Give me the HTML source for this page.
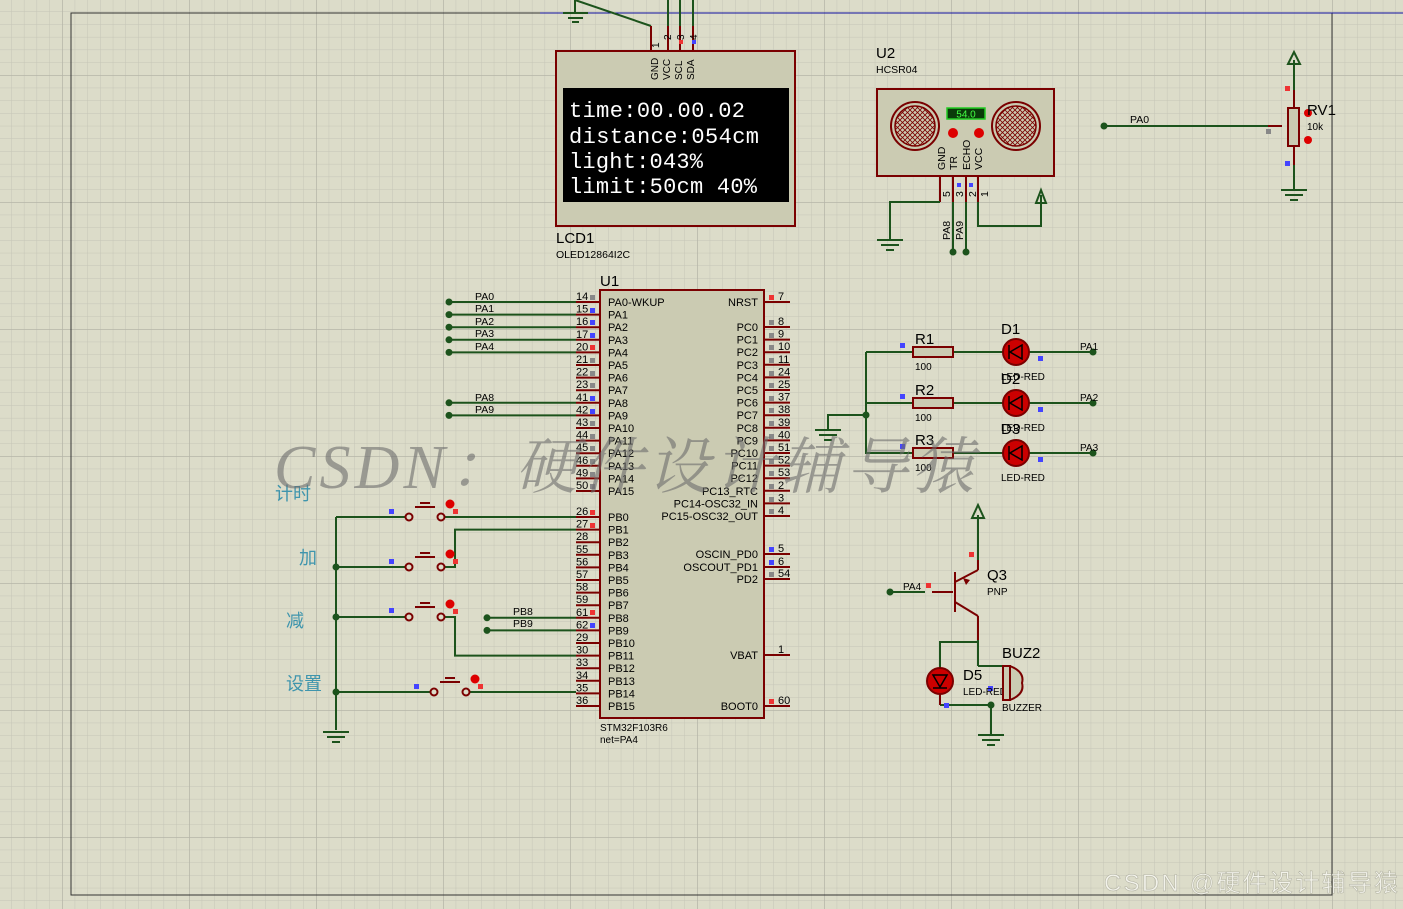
<!DOCTYPE html>
<html><head><meta charset="utf-8"><style>
html,body{margin:0;padding:0;background:#dcdcc9;}
svg{display:block;font-family:"Liberation Sans",Arial,sans-serif;}
.p{font-size:11px;fill:#000}
.n{font-size:11px;fill:#000}
.w{stroke:#1c531c;stroke-width:2;fill:none}
.r{stroke:#7a0000;stroke-width:2;fill:none}
</style></head><body>
<svg width="1403" height="909" viewBox="0 0 1403 909" xmlns="http://www.w3.org/2000/svg">
<defs>
<pattern id="g" x="62" y="-52" width="12.7" height="12.7" patternUnits="userSpaceOnUse"><path d="M0 0H12.7M0 0V12.7" stroke="#c5c5b6" stroke-width="1" fill="none"/></pattern>
<pattern id="G" x="62" y="-52" width="127" height="127" patternUnits="userSpaceOnUse"><path d="M0 0H127M0 0V127" stroke="#b5b5a8" stroke-width="1.5" fill="none"/></pattern>
<pattern id="mesh" width="5" height="5" patternUnits="userSpaceOnUse"><path d="M0 0L5 5M5 0L0 5" stroke="#7a0000" stroke-width="0.8"/></pattern>
</defs>
<rect width="1403" height="909" fill="#dcdcc9"/>
<rect width="1403" height="909" fill="url(#g)"/>
<rect width="1403" height="909" fill="url(#G)"/>
<rect x="71" y="13" width="1261" height="882" fill="none" stroke="#333" stroke-width="1"/>

<!-- LCD -->
<line x1="540" y1="13" x2="1403" y2="13" stroke="#1010a0" stroke-width="1"/>
<path class="w" d="M575 0V13M563 13H588M568 18H583M572 22H579"/>
<path class="w" d="M575 0L651 26M668 0V26M680 0V26M693 0V26"/>
<path class="r" d="M651 26V51M668 26V51M680 26V51M693 26V51"/>
<rect x="679" y="40" width="4" height="4" fill="#e33"/><rect x="692" y="40" width="4" height="4" fill="#44f"/>
<rect x="556" y="51" width="239" height="175" fill="#cbcbb2" stroke="#7a0000" stroke-width="2"/>
<g font-size="10" fill="#000"><text transform="translate(659,48) rotate(-90)">1</text><text transform="translate(671,40) rotate(-90)">2</text><text transform="translate(684,40) rotate(-90)">3</text><text transform="translate(697,40) rotate(-90)">4</text>
<text transform="translate(658,80) rotate(-90)">GND</text><text transform="translate(670,80) rotate(-90)">VCC</text><text transform="translate(682,80) rotate(-90)">SCL</text><text transform="translate(694,80) rotate(-90)">SDA</text></g>
<rect x="563" y="88" width="226" height="114" fill="#000"/>
<g font-family="'Liberation Mono',monospace" font-size="22" fill="#fff"><text x="569" y="117" textLength="176">time:00.00.02</text><text x="569" y="143" textLength="190">distance:054cm</text><text x="569" y="168" textLength="134">light:043%</text><text x="569" y="193" textLength="188">limit:50cm 40%</text></g>
<text x="556" y="243" font-size="15">LCD1</text><text x="556" y="258" font-size="10.5">OLED12864I2C</text>

<!-- HCSR04 -->
<text x="876" y="58" font-size="15">U2</text><text x="876" y="73" font-size="10.5">HCSR04</text>
<rect x="877" y="89" width="177" height="87" fill="#cbcbb2" stroke="#7a0000" stroke-width="2"/>
<circle cx="915" cy="126" r="24" fill="#cbcbb2" stroke="#7a0000" stroke-width="2"/><circle cx="915" cy="126" r="20" fill="url(#mesh)" stroke="#7a0000" stroke-width="1.5"/>
<circle cx="1016" cy="126" r="24" fill="#cbcbb2" stroke="#7a0000" stroke-width="2"/><circle cx="1016" cy="126" r="20" fill="url(#mesh)" stroke="#7a0000" stroke-width="1.5"/>
<rect x="947" y="108" width="38" height="11" fill="#0a3a0a" stroke="#2c2" stroke-width="1.5"/><text x="966" y="117.5" font-size="10" fill="#4f4" text-anchor="middle">54.0</text>
<circle cx="953" cy="133" r="5" fill="#d00"/><circle cx="979" cy="133" r="5" fill="#d00"/>
<g font-size="10.5"><text transform="translate(945,170) rotate(-90)">GND</text><text transform="translate(957,170) rotate(-90)">TR</text><text transform="translate(970,170) rotate(-90)">ECHO</text><text transform="translate(982,170) rotate(-90)">VCC</text>
<text transform="translate(950,197) rotate(-90)">5</text><text transform="translate(963,197) rotate(-90)">3</text><text transform="translate(976,197) rotate(-90)">2</text><text transform="translate(988,197) rotate(-90)">1</text>
<text transform="translate(950,240) rotate(-90)">PA8</text><text transform="translate(963,240) rotate(-90)">PA9</text></g>
<rect x="957" y="183" width="4" height="4" fill="#44f"/><rect x="969" y="183" width="4" height="4" fill="#44f"/>
<path class="r" d="M940 176V202M953 176V202M966 176V202M978 176V202"/>
<path class="w" d="M940 202H890V240M953 202V252M966 202V252M978 202V226H1041V195"/>
<path class="w" d="M877 240H903M881 245H899M886 250H894"/>
<path class="w" d="M1036 203L1041 190L1046 203Z"/>
<circle cx="953" cy="252" r="3.5" fill="#1c531c"/><circle cx="966" cy="252" r="3.5" fill="#1c531c"/>

<!-- RV1 -->
<circle cx="1104" cy="126" r="3.5" fill="#1c531c"/><path class="w" d="M1104 126H1268"/><text x="1130" y="123" font-size="10.5">PA0</text>
<path class="r" d="M1268 126H1282"/><rect x="1266" y="129" width="5" height="5" fill="#888"/>
<path class="w" d="M1294 60V90M1294 165V190M1281 190H1307M1285 195H1303M1290 200H1298M1288 64L1294 52L1300 64Z"/>
<path class="r" d="M1294 90V108M1294 146V165"/>
<rect x="1285" y="86" width="5" height="5" fill="#e33"/><rect x="1285" y="161" width="5" height="5" fill="#44f"/>
<rect x="1288" y="108" width="11" height="38" fill="#cbcbb2" stroke="#7a0000" stroke-width="2"/>
<circle cx="1308" cy="113" r="4" fill="#d00"/><circle cx="1308" cy="140" r="4" fill="#d00"/>
<text x="1307" y="115" font-size="15">RV1</text><text x="1307" y="130" font-size="10">10k</text>

<!-- MCU -->
<text x="600" y="286" font-size="15">U1</text>
<rect x="600" y="290" width="164" height="428" fill="#cbcbb2" stroke="#7a0000" stroke-width="2"/>
<g class="r">
<path d="M576 302H600M576 314.6H600M576 327.2H600M576 339.8H600M576 352.4H600M576 365H600M576 377.6H600M576 390.2H600M576 402.8H600M576 415.4H600M576 428H600M576 440.6H600M576 453.2H600M576 465.8H600M576 478.4H600M576 491H600"/>
<path d="M576 517H600M576 529.6H600M576 542.2H600M576 554.8H600M576 567.4H600M576 580H600M576 592.6H600M576 605.2H600M576 617.8H600M576 630.4H600M576 643H600M576 655.6H600M576 668.2H600M576 680.8H600M576 693.4H600M576 706H600"/>
<path d="M764 302H790M764 327H790M764 339.6H790M764 352.2H790M764 364.8H790M764 377.4H790M764 390H790M764 402.6H790M764 415.2H790M764 427.8H790M764 440.4H790M764 453H790M764 465.6H790M764 478.2H790M764 490.8H790M764 503.4H790M764 516H790M764 554H790M764 567H790M764 579H790M764 655H790M764 706H790"/>
</g>
<g class="p">
<text x="608" y="306">PA0-WKUP</text><text x="608" y="318.6">PA1</text><text x="608" y="331.2">PA2</text><text x="608" y="343.8">PA3</text><text x="608" y="356.4">PA4</text><text x="608" y="369">PA5</text><text x="608" y="381.6">PA6</text><text x="608" y="394.2">PA7</text><text x="608" y="406.8">PA8</text><text x="608" y="419.4">PA9</text><text x="608" y="432">PA10</text><text x="608" y="444.6">PA11</text><text x="608" y="457.2">PA12</text><text x="608" y="469.8">PA13</text><text x="608" y="482.4">PA14</text><text x="608" y="495">PA15</text>
<text x="608" y="521">PB0</text><text x="608" y="533.6">PB1</text><text x="608" y="546.2">PB2</text><text x="608" y="558.8">PB3</text><text x="608" y="571.4">PB4</text><text x="608" y="584">PB5</text><text x="608" y="596.6">PB6</text><text x="608" y="609.2">PB7</text><text x="608" y="621.8">PB8</text><text x="608" y="634.4">PB9</text><text x="608" y="647">PB10</text><text x="608" y="659.6">PB11</text><text x="608" y="672.2">PB12</text><text x="608" y="684.8">PB13</text><text x="608" y="697.4">PB14</text><text x="608" y="710">PB15</text>
</g>
<g class="p" text-anchor="end">
<text x="758" y="306">NRST</text><text x="758" y="331">PC0</text><text x="758" y="343.6">PC1</text><text x="758" y="356.2">PC2</text><text x="758" y="368.8">PC3</text><text x="758" y="381.4">PC4</text><text x="758" y="394">PC5</text><text x="758" y="406.6">PC6</text><text x="758" y="419.2">PC7</text><text x="758" y="431.8">PC8</text><text x="758" y="444.4">PC9</text><text x="758" y="457">PC10</text><text x="758" y="469.6">PC11</text><text x="758" y="482.2">PC12</text><text x="758" y="494.8">PC13_RTC</text><text x="758" y="507.4">PC14-OSC32_IN</text><text x="758" y="520">PC15-OSC32_OUT</text>
<text x="758" y="558">OSCIN_PD0</text><text x="758" y="571">OSCOUT_PD1</text><text x="758" y="583">PD2</text><text x="758" y="659">VBAT</text><text x="758" y="710">BOOT0</text>
</g>
<g class="n" font-size="10.5">
<text x="576" y="300">14</text><text x="576" y="312.6">15</text><text x="576" y="325.2">16</text><text x="576" y="337.8">17</text><text x="576" y="350.4">20</text><text x="576" y="363">21</text><text x="576" y="375.6">22</text><text x="576" y="388.2">23</text><text x="576" y="400.8">41</text><text x="576" y="413.4">42</text><text x="576" y="426">43</text><text x="576" y="438.6">44</text><text x="576" y="451.2">45</text><text x="576" y="463.8">46</text><text x="576" y="476.4">49</text><text x="576" y="489">50</text>
<text x="576" y="515">26</text><text x="576" y="527.6">27</text><text x="576" y="540.2">28</text><text x="576" y="552.8">55</text><text x="576" y="565.4">56</text><text x="576" y="578">57</text><text x="576" y="590.6">58</text><text x="576" y="603.2">59</text><text x="576" y="615.8">61</text><text x="576" y="628.4">62</text><text x="576" y="641">29</text><text x="576" y="653.6">30</text><text x="576" y="666.2">33</text><text x="576" y="678.8">34</text><text x="576" y="691.4">35</text><text x="576" y="704">36</text>
<text x="778" y="300">7</text><text x="778" y="325">8</text><text x="778" y="337.6">9</text><text x="778" y="350.2">10</text><text x="778" y="362.8">11</text><text x="778" y="375.4">24</text><text x="778" y="388">25</text><text x="778" y="400.6">37</text><text x="778" y="413.2">38</text><text x="778" y="425.8">39</text><text x="778" y="438.4">40</text><text x="778" y="451">51</text><text x="778" y="463.6">52</text><text x="778" y="476.2">53</text><text x="778" y="488.8">2</text><text x="778" y="501.4">3</text><text x="778" y="514">4</text><text x="778" y="552">5</text><text x="778" y="565">6</text><text x="778" y="577">54</text><text x="778" y="653">1</text><text x="778" y="704">60</text>
</g>
<g fill="#888"><rect x="590" y="295" width="5" height="5"/><rect x="590" y="358" width="5" height="5"/><rect x="590" y="371" width="5" height="5"/><rect x="590" y="383" width="5" height="5"/><rect x="590" y="421" width="5" height="5"/><rect x="590" y="434" width="5" height="5"/><rect x="590" y="446" width="5" height="5"/><rect x="590" y="459" width="5" height="5"/><rect x="590" y="472" width="5" height="5"/><rect x="590" y="484" width="5" height="5"/>
<rect x="769" y="320" width="5" height="5"/><rect x="769" y="333" width="5" height="5"/><rect x="769" y="345" width="5" height="5"/><rect x="769" y="358" width="5" height="5"/><rect x="769" y="371" width="5" height="5"/><rect x="769" y="383" width="5" height="5"/><rect x="769" y="396" width="5" height="5"/><rect x="769" y="408" width="5" height="5"/><rect x="769" y="421" width="5" height="5"/><rect x="769" y="434" width="5" height="5"/><rect x="769" y="446" width="5" height="5"/><rect x="769" y="459" width="5" height="5"/><rect x="769" y="471" width="5" height="5"/><rect x="769" y="484" width="5" height="5"/><rect x="769" y="497" width="5" height="5"/><rect x="769" y="509" width="5" height="5"/><rect x="769" y="572" width="5" height="5"/></g>
<g fill="#44f"><rect x="590" y="308" width="5" height="5"/><rect x="590" y="320" width="5" height="5"/><rect x="590" y="333" width="5" height="5"/><rect x="590" y="396" width="5" height="5"/><rect x="590" y="409" width="5" height="5"/><rect x="590" y="623" width="5" height="5"/><rect x="769" y="547" width="5" height="5"/><rect x="769" y="560" width="5" height="5"/></g>
<g fill="#e33"><rect x="590" y="345" width="5" height="5"/><rect x="590" y="510" width="5" height="5"/><rect x="590" y="523" width="5" height="5"/><rect x="590" y="610" width="5" height="5"/><rect x="769" y="295" width="5" height="5"/><rect x="769" y="699" width="5" height="5"/></g>
<text x="600" y="731" font-size="10">STM32F103R6</text><text x="600" y="743" font-size="10">net=PA4</text>

<!-- left nets -->
<g class="w"><path d="M449 302H576M449 314.6H576M449 327.2H576M449 339.8H576M449 352.4H576M449 402.8H576M449 415.4H576M487 617.8H576M487 630.4H576"/></g>
<g fill="#1c531c"><circle cx="449" cy="302" r="3.5"/><circle cx="449" cy="314.6" r="3.5"/><circle cx="449" cy="327.2" r="3.5"/><circle cx="449" cy="339.8" r="3.5"/><circle cx="449" cy="352.4" r="3.5"/><circle cx="449" cy="402.8" r="3.5"/><circle cx="449" cy="415.4" r="3.5"/><circle cx="487" cy="617.8" r="3.5"/><circle cx="487" cy="630.4" r="3.5"/></g>
<g font-size="10.5"><text x="475" y="300">PA0</text><text x="475" y="312">PA1</text><text x="475" y="325">PA2</text><text x="475" y="337">PA3</text><text x="475" y="350">PA4</text><text x="475" y="401">PA8</text><text x="475" y="413">PA9</text><text x="513" y="615">PB8</text><text x="513" y="627">PB9</text></g>

<!-- buttons -->
<path class="w" d="M336 517V730M323 732H349M327 737H345M332 742H340"/>
<path class="w" d="M336 517H405M445 517H576M336 567H405M445 567H455V529.6H576M336 617H405M445 617H455V655.6H576M336 692H430M470 692H576"/>
<g fill="#1c531c"><circle cx="336" cy="567" r="3.5"/><circle cx="336" cy="617" r="3.5"/><circle cx="336" cy="692" r="3.5"/></g>
<g stroke="#7a0000" stroke-width="2" fill="#dcdcc9">
<circle cx="409" cy="517" r="3.5"/><circle cx="441" cy="517" r="3.5"/><path d="M415 507H435M420 503H430" fill="none"/>
<circle cx="409" cy="567" r="3.5"/><circle cx="441" cy="567" r="3.5"/><path d="M415 557H435M420 553H430" fill="none"/>
<circle cx="409" cy="617" r="3.5"/><circle cx="441" cy="617" r="3.5"/><path d="M415 607H435M420 603H430" fill="none"/>
<circle cx="434" cy="692" r="3.5"/><circle cx="466" cy="692" r="3.5"/><path d="M440 682H460M445 678H455" fill="none"/>
</g>
<g fill="#d00"><circle cx="450" cy="504" r="4.5"/><circle cx="450" cy="554" r="4.5"/><circle cx="450" cy="604" r="4.5"/><circle cx="475" cy="679" r="4.5"/></g>
<g fill="#44f"><rect x="389" y="509" width="5" height="5"/><rect x="389" y="559" width="5" height="5"/><rect x="389" y="608" width="5" height="5"/><rect x="414" y="684" width="5" height="5"/></g>
<g fill="#e33"><rect x="453" y="509" width="5" height="5"/><rect x="453" y="559" width="5" height="5"/><rect x="453" y="609" width="5" height="5"/><rect x="478" y="684" width="5" height="5"/></g>
<g font-family="'Liberation Sans','Noto Sans CJK SC',sans-serif" font-size="18" fill="#3f95ad"><text x="275" y="500">计时</text><text x="299" y="564">加</text><text x="286" y="627">减</text><text x="286" y="690">设置</text></g>

<!-- resistors/LEDs -->
<path class="w" d="M866 352H913M866 352V453H913M866 403H913M866 415H828V430M815 430H841M819 435H837M824 440H832M953 352H1004M953 403H1004M953 453H1004M1028 352H1093M1028 403H1093M1028 453H1093"/>
<circle cx="866" cy="415" r="3.5" fill="#1c531c"/>
<g fill="#1c531c"><circle cx="1093" cy="352" r="3.5"/><circle cx="1093" cy="403" r="3.5"/><circle cx="1093" cy="453" r="3.5"/></g>
<g fill="#cbcbb2" stroke="#7a0000" stroke-width="2"><rect x="913" y="347" width="40" height="10"/><rect x="913" y="398" width="40" height="10"/><rect x="913" y="448" width="40" height="10"/></g>
<g fill="#44f"><rect x="900" y="343" width="5" height="5"/><rect x="900" y="394" width="5" height="5"/><rect x="900" y="444" width="5" height="5"/><rect x="1038" y="356" width="5" height="5"/><rect x="1038" y="407" width="5" height="5"/><rect x="1038" y="457" width="5" height="5"/></g>
<g font-size="15"><text x="915" y="344">R1</text><text x="915" y="395">R2</text><text x="915" y="445">R3</text><text x="1001" y="334">D1</text><text x="1001" y="384">D2</text><text x="1001" y="434">D3</text></g>
<g font-size="10"><text x="915" y="370">100</text><text x="915" y="421">100</text><text x="915" y="471">100</text><text x="1001" y="380">LED-RED</text><text x="1001" y="431">LED-RED</text><text x="1001" y="481">LED-RED</text><text x="1080" y="350">PA1</text><text x="1080" y="401">PA2</text><text x="1080" y="451">PA3</text></g>
<g><circle cx="1016" cy="352" r="13" fill="#c00" stroke="#7a0000" stroke-width="2"/><circle cx="1016" cy="403" r="13" fill="#c00" stroke="#7a0000" stroke-width="2"/><circle cx="1016" cy="453" r="13" fill="#c00" stroke="#7a0000" stroke-width="2"/>
<path d="M1022 345L1010 352L1022 359ZM1009 345V359M1022 396L1010 403L1022 410ZM1009 396V410M1022 446L1010 453L1022 460ZM1009 446V460" stroke="#000" stroke-width="1.5" fill="none"/></g>

<!-- transistor/buzzer -->
<circle cx="890" cy="592" r="3.5" fill="#1c531c"/>
<path class="w" d="M890 592H925M978 515V560M978 640V642H940V667M940 705H991V735M978 666H1003M978 642V666"/>
<path class="w" d="M972 518L978 505L984 518Z"/>
<path class="w" d="M978 735H1004M982 740H1000M987 745H995"/>
<path class="r" d="M932 592H953M955 572V612M955 582L978 570M955 602L978 616M978 560V570M978 616V640"/>
<path d="M963 578L970 580L966 585Z" fill="#7a0000"/>
<rect x="926" y="583" width="5" height="5" fill="#e33"/><rect x="969" y="552" width="5" height="5" fill="#e33"/>
<text x="903" y="590" font-size="10">PA4</text><text x="987" y="580" font-size="15">Q3</text><text x="987" y="595" font-size="10">PNP</text>
<circle cx="940" cy="681" r="13" fill="#c00" stroke="#7a0000" stroke-width="2"/><path d="M933 675L940 687L947 675ZM933 688H947" stroke="#000" stroke-width="1.5" fill="none"/>
<path class="r" d="M940 667V668M940 694V705"/>
<rect x="944" y="703" width="5" height="5" fill="#44f"/><rect x="988" y="686" width="5" height="5" fill="#44f"/>
<text x="963" y="680" font-size="15">D5</text><text x="963" y="695" font-size="10">LED-RED</text>
<path d="M1003 666H1010V700H1003ZM1010 666Q1025 672 1022 683Q1025 694 1010 700" stroke="#7a0000" stroke-width="2" fill="#cbcbb2"/>
<circle cx="991" cy="705" r="3.5" fill="#1c531c"/>
<text x="1002" y="658" font-size="15">BUZ2</text><text x="1002" y="711" font-size="10">BUZZER</text>

<!-- watermarks -->
<text x="274" y="488" textLength="700" font-family="'Liberation Serif','Noto Serif CJK SC',serif" font-size="62" font-style="italic" fill="#6c6c6c" fill-opacity="0.6">CSDN：硬件设计辅导猿</text>
<text x="1104" y="891" textLength="294" font-family="'Liberation Sans','Noto Sans CJK SC',sans-serif" font-size="24" fill="#f2f2ea" stroke="#b0b0a0" stroke-width="0.5">CSDN @硬件设计辅导猿</text>
</svg>
</body></html>
